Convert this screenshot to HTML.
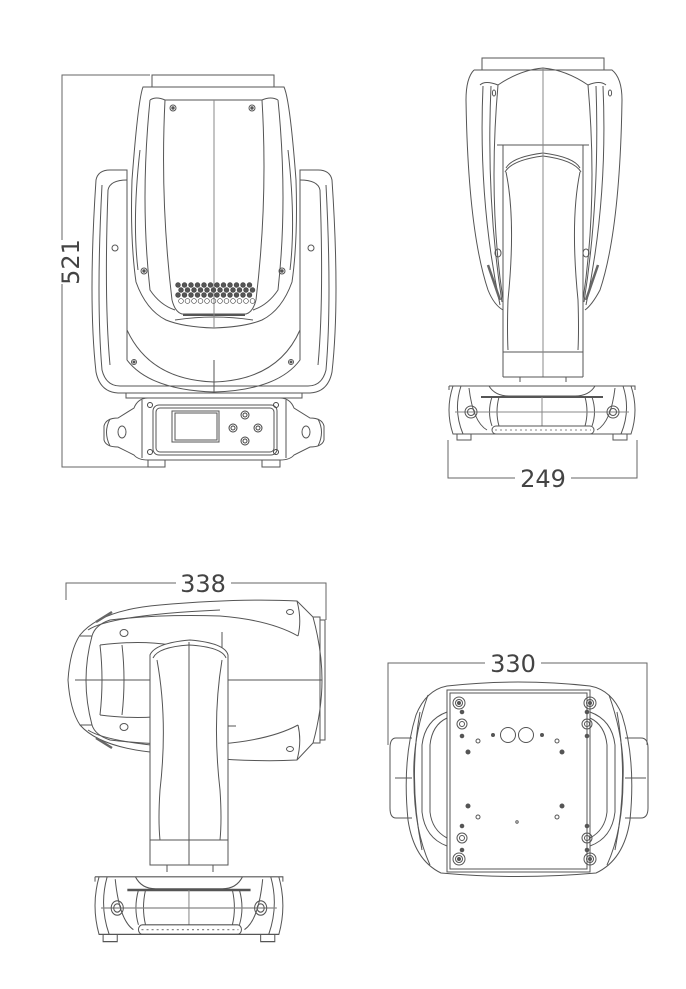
<!DOCTYPE html>
<html><head><meta charset="utf-8"><style>
html,body{margin:0;padding:0;background:#fff;}
svg{display:block;}
text{font-family:"DejaVu Sans","Liberation Sans",sans-serif;fill:#444;}
</style></head><body>
<svg width="686" height="989" viewBox="0 0 686 989" xmlns="http://www.w3.org/2000/svg">
<defs>
<g id="baseSide" fill="none" stroke="#555" stroke-width="1">
  <path d="M2,4 H188 L188,8 M2,4 L2,8"/>
  <path d="M6,4 Q-2,28 6,52 H184 Q192,28 184,4"/>
  <path d="M14,4 Q6,28 16,52 M176,4 Q184,28 174,52"/>
  <path d="M22,6 Q26,40 40,48 M168,6 Q164,40 150,48"/>
  <path d="M42,4 Q48,14 62,14 H128 Q142,14 148,4"/>
  <path d="M34,15 H156" stroke-width="2"/>
  <path d="M45,15 Q40,30 45,44 M145,15 Q150,30 145,44 M52,15 Q48,30 52,44 M138,15 Q142,30 138,44"/>
  <path d="M95,15 V44 M8,30 H182" stroke="#888"/>
  <rect x="45" y="44" width="102" height="8" rx="4"/>
  <path d="M48,48 H144" stroke="#888" stroke-dasharray="2 3"/>
  <circle cx="24" cy="30" r="6"/><circle cx="24" cy="30" r="3.5"/>
  <circle cx="166" cy="30" r="6"/><circle cx="166" cy="30" r="3.5"/>
  <path d="M10,52 V58 H24 V52 M166,52 V58 H180 V52"/>
</g>
</defs>

<!-- ========== VIEW 1: FRONT ========== -->
<g fill="none" stroke="#666" stroke-width="1">
  <path d="M150,75 H62 V467 H150"/>
</g>
<rect x="48" y="240" width="28" height="44" fill="#fff"/>
<text x="72" y="262" font-size="24" text-anchor="middle" transform="rotate(-90 72 262)" dominant-baseline="middle">521</text>

<g fill="none" stroke="#555" stroke-width="1">
  <!-- yoke -->
  <path d="M96,180 Q98,170 110,170 H127 V360 Q150,390 214,392 Q278,390 300,360 V170 H318 Q330,170 332,180 Q340,300 332,372 Q328,392 310,393 H118 Q100,392 96,372 Q88,300 96,180 Z"/>
  <path d="M102,185 Q96,300 102,370 Q106,386 120,386 H308 Q322,386 326,370 Q332,300 326,185"/>
  <path d="M108,190 Q104,300 110,365 M320,190 Q324,300 318,365"/>
  <path d="M127,180 Q110,180 108,190 M300,180 Q318,180 320,190"/>
  <path d="M127,330 Q150,380 214,382 Q278,380 300,330"/>
  <path d="M214,360 V392"/>
  <path d="M126,393 V398 H152 M302,393 V398 H276"/>
  <!-- head -->
  <path d="M152,87 V75 H274 V87"/>
  <path d="M143,87 H284 Q290,100 296,180 Q298,240 292,282 Q282,310 262,320 Q245,327 214,328 Q183,327 166,320 Q146,310 136,282 Q130,240 132,180 Q138,100 143,87 Z"/>
  <path d="M150,100 Q156,96 165,100 H262 Q271,96 278,100"/>
  <path d="M165,100 Q160,200 172,300 M262,100 Q268,200 256,300"/>
  <path d="M150,100 Q140,200 150,290 Q160,305 175,310 M278,100 Q288,200 278,290 Q268,305 253,310"/>
  <path d="M140,150 Q132,220 138,270 M288,150 Q296,220 290,270"/>
  <path d="M172,300 Q175,312 182,314 H246 Q253,312 256,300"/>
  <path d="M175,320 Q195,317 214,317 Q233,317 253,320"/>
  <path d="M183,315 H245" stroke-width="2"/>
  <path d="M214,100 V328" stroke="#888"/>
  <circle cx="173" cy="108" r="3"/><circle cx="173" cy="108" r="1.2" fill="#555"/>
  <circle cx="252" cy="108" r="3"/><circle cx="252" cy="108" r="1.2" fill="#555"/>
  <circle cx="144" cy="271" r="3"/><circle cx="144" cy="271" r="1.2" fill="#555"/>
  <circle cx="282" cy="271" r="3"/><circle cx="282" cy="271" r="1.2" fill="#555"/>
  <circle cx="115" cy="248" r="3"/><circle cx="311" cy="248" r="3"/>
  <circle cx="134" cy="362" r="2.5"/><circle cx="134" cy="362" r="1" fill="#555"/>
  <circle cx="291" cy="362" r="2.5"/><circle cx="291" cy="362" r="1" fill="#555"/>
  <!-- base -->
  <path d="M148,398 H280 Q290,398 294,408 L310,418 Q322,418 324,426 V440 Q322,447 310,447 L294,455 Q290,460 280,460 H148 Q138,460 134,455 L118,447 Q106,447 104,440 V426 Q106,418 118,418 L134,408 Q138,398 148,398 Z"/>
  <path d="M142,400 V458 M286,400 V458"/>
  <rect x="153" y="405" width="124" height="50" rx="6"/>
  <rect x="156" y="408" width="118" height="44" rx="4"/>
  <rect x="172" y="411" width="47" height="31"/>
  <rect x="175" y="413" width="42" height="27"/>
  <ellipse cx="122" cy="432" rx="4" ry="6"/><ellipse cx="306" cy="432" rx="4" ry="6"/>
  <path d="M110,419 Q103,432 110,446 M318,419 Q325,432 318,446"/>
  <path d="M148,460 V467 H165 V460 M262,460 V467 H280 V460"/>
</g>
<g fill="none" stroke="#444" stroke-width="1">
  <circle cx="245" cy="415" r="4"/><circle cx="245" cy="415" r="2"/>
  <circle cx="233" cy="428" r="4"/><circle cx="233" cy="428" r="2"/>
  <circle cx="258" cy="428" r="4"/><circle cx="258" cy="428" r="2"/>
  <circle cx="245" cy="441" r="4"/><circle cx="245" cy="441" r="2"/>
  <circle cx="150" cy="405" r="2.5"/><circle cx="276" cy="405" r="2.5"/>
  <circle cx="150" cy="452" r="2.5"/><circle cx="276" cy="452" r="2.5"/>
</g>
<!-- LED dots -->
<g fill="#555" stroke="#444" stroke-width="0.6">
  <g id="r1"><circle cx="178" cy="285" r="2.4"/><circle cx="184.5" cy="285" r="2.4"/><circle cx="191" cy="285" r="2.4"/><circle cx="197.5" cy="285" r="2.4"/><circle cx="204" cy="285" r="2.4"/><circle cx="210.5" cy="285" r="2.4"/><circle cx="217" cy="285" r="2.4"/><circle cx="223.5" cy="285" r="2.4"/><circle cx="230" cy="285" r="2.4"/><circle cx="236.5" cy="285" r="2.4"/><circle cx="243" cy="285" r="2.4"/><circle cx="249.5" cy="285" r="2.4"/></g>
  <use href="#r1" transform="translate(3,5)"/>
  <use href="#r1" transform="translate(0,10)"/>
  <use href="#r1" transform="translate(3,16)" fill="none"/>
</g>

<!-- ========== VIEW 2: SIDE ========== -->
<g fill="none" stroke="#555" stroke-width="1">
  <path d="M482,70 V58 H604 V70"/>
  <path d="M474,70 H612 Q622,78 622,100 Q620,230 600,290 Q592,305 585,310 M474,70 Q466,78 466,100 Q468,230 488,290 Q494,305 503,310"/>
  <path d="M480,85 Q485,80 498,85 Q520,70 543,68 Q566,70 588,85 Q600,80 606,85"/>
  <path d="M498,85 Q488,200 503,300 M588,85 Q598,200 583,300"/>
  <path d="M483,86 Q478,200 500,305 M603,86 Q608,200 586,305"/>
  <path d="M491,86 Q486,200 502,302 M596,86 Q600,200 584,302"/>
  <path d="M488,265 L500,300 M598,265 L586,300" stroke-width="2.5" stroke="#666"/>
  <ellipse cx="494" cy="93" rx="1.6" ry="3"/><ellipse cx="610" cy="93" rx="1.6" ry="3"/>
  <ellipse cx="498" cy="253" rx="3" ry="4"/><ellipse cx="586" cy="253" rx="3" ry="4"/>
  <!-- arm -->
  <path d="M497,145 H589 M503,145 V377 M583,145 V377"/>
  <path d="M506,168 Q512,157 543,153 Q574,157 580,168"/>
  <path d="M505,172 Q512,160 543,156 Q574,160 581,172"/>
  <path d="M506,172 Q516,220 508,300 Q507,330 508,350 M580,172 Q570,220 578,300 Q579,330 578,350"/>
  <path d="M503,352 H583"/>
  <path d="M543,68 V377" stroke="#888"/>
  <path d="M503,377 H583 M520,377 V382 M566,377 V382"/>
</g>
<use href="#baseSide" transform="translate(447,382)"/>
<g fill="none" stroke="#666" stroke-width="1">
  <path d="M448,440 V478 H515 M571,478 H637 V440"/>
</g>
<text x="543" y="487" font-size="24" text-anchor="middle">249</text>

<!-- ========== VIEW 3: SIDE (rotated head) ========== -->
<g fill="none" stroke="#666" stroke-width="1">
  <path d="M66,600 V583 H176 M231,583 H326 V620"/>
</g>
<text x="203" y="592" font-size="24" text-anchor="middle">338</text>
<g fill="none" stroke="#555" stroke-width="1">
  <path d="M80,635 Q100,610 160,605 Q240,598 297,601 L313,617 Q322,650 322,680 Q322,710 313,743 L297,760 Q240,763 160,753 Q100,748 80,725 Q70,710 68,680 Q70,650 80,635 Z"/>
  <path d="M313,617 H320 V743 H313 M320,620 H325 V740 H320"/>
  <path d="M297,601 Q302,620 298,636 M297,760 Q302,742 298,725"/>
  <path d="M80,636 H92 Q95,625 110,620 Q160,614 220,616 Q270,620 298,636"/>
  <path d="M80,725 H92 Q95,735 110,740 Q160,746 220,744 Q270,740 298,725"/>
  <path d="M88,630 Q110,615 220,610 M88,730 Q110,745 220,750"/>
  <path d="M96,622 L112,612 M96,738 L112,748" stroke-width="2.5" stroke="#666"/>
  <path d="M92,636 Q80,680 92,725 M75,680 H322" />
  <path d="M100,645 Q140,640 170,645 M100,715 Q140,720 170,715"/>
  <path d="M100,645 Q104,680 100,715 M122,645 Q126,680 122,715"/>
  <path d="M222,632 V726 H236"/>
  <ellipse cx="124" cy="633" rx="4" ry="3.5"/><ellipse cx="124" cy="727" rx="4" ry="3.5"/>
  <ellipse cx="290" cy="612" rx="3.5" ry="2.5"/><ellipse cx="290" cy="749" rx="3.5" ry="2.5"/>
  <!-- arm -->
  <path d="M150,655 Q155,643 190,640 Q225,643 228,655 V865 H150 Z" fill="#fff"/>
  <path d="M153,658 Q158,647 189,645 Q222,647 226,658"/>
  <path d="M157,660 Q168,720 160,790 Q158,820 160,840 M222,660 Q212,720 220,790 Q222,820 220,840"/>
  <path d="M150,840 H228 M189,642 V865" />
  <path d="M167,865 V872 M213,865 V872"/>
</g>
<use href="#baseSide" transform="translate(93,872) scale(1.01,1.2)"/>

<!-- ========== VIEW 4: BOTTOM ========== -->
<g fill="none" stroke="#666" stroke-width="1">
  <path d="M388,745 V663 H485 M541,663 H647 V745"/>
</g>
<text x="513" y="672" font-size="24" text-anchor="middle">330</text>
<g fill="none" stroke="#555" stroke-width="1">
  <!-- handles -->
  <path d="M412,738 H396 Q390,738 390,748 V808 Q390,818 396,818 H412"/>
  <path d="M395,778 H412"/>
  <path d="M625,738 H641 Q648,738 648,748 V808 Q648,818 641,818 H625"/>
  <path d="M625,778 H646"/>
  <!-- outer rounded body -->
  <path d="M447,686 Q518,678 590,686 Q612,690 622,715 Q636,760 630,820 Q624,860 596,873 Q518,880 441,873 Q414,860 408,820 Q402,760 416,715 Q426,690 447,686 Z"/>
  <path d="M428,695 Q412,740 414,780 Q414,830 430,865 M609,695 Q625,740 623,780 Q623,830 607,865"/>
  <path d="M420,712 Q408,780 422,850 M617,712 Q629,780 615,850"/>
  <path d="M447,718 Q432,725 430,745 V812 Q432,830 447,838 M590,718 Q605,725 607,745 V812 Q605,830 590,838"/>
  <path d="M447,712 Q425,720 422,745 V812 Q425,838 447,846 M590,712 Q612,720 615,745 V812 Q612,838 590,846"/>
  <!-- plate -->
  <rect x="447" y="690" width="143" height="182" fill="#fff"/>
  <rect x="450" y="693" width="137" height="176"/>
  <circle cx="508" cy="735" r="7.5"/><circle cx="526" cy="735" r="7.5"/>
  <circle cx="493" cy="735" r="1.5" fill="#555"/><circle cx="542" cy="735" r="1.5" fill="#555"/>
  <circle cx="478" cy="741" r="2"/><circle cx="557" cy="741" r="2"/>
  <circle cx="478" cy="817" r="2"/><circle cx="557" cy="817" r="2"/>
  <circle cx="468" cy="752" r="2" fill="#555"/><circle cx="562" cy="752" r="2" fill="#555"/>
  <circle cx="468" cy="806" r="2" fill="#555"/><circle cx="562" cy="806" r="2" fill="#555"/>
  <circle cx="517" cy="822" r="1.2"/>
  <g id="corner">
    <circle cx="459" cy="703" r="6"/><circle cx="459" cy="703" r="3.5"/><circle cx="459" cy="703" r="1.5" fill="#555"/>
    <circle cx="462" cy="712" r="1.8" fill="#555"/>
    <circle cx="462" cy="724" r="5"/><circle cx="462" cy="724" r="2.5"/>
    <circle cx="462" cy="736" r="1.8" fill="#555"/>
  </g>
  <use href="#corner" transform="translate(1049,0) scale(-1,1)"/>
  <use href="#corner" transform="translate(0,1562) scale(1,-1)"/>
  <use href="#corner" transform="translate(1049,1562) scale(-1,-1)"/>
</g>
</svg>
</body></html>
